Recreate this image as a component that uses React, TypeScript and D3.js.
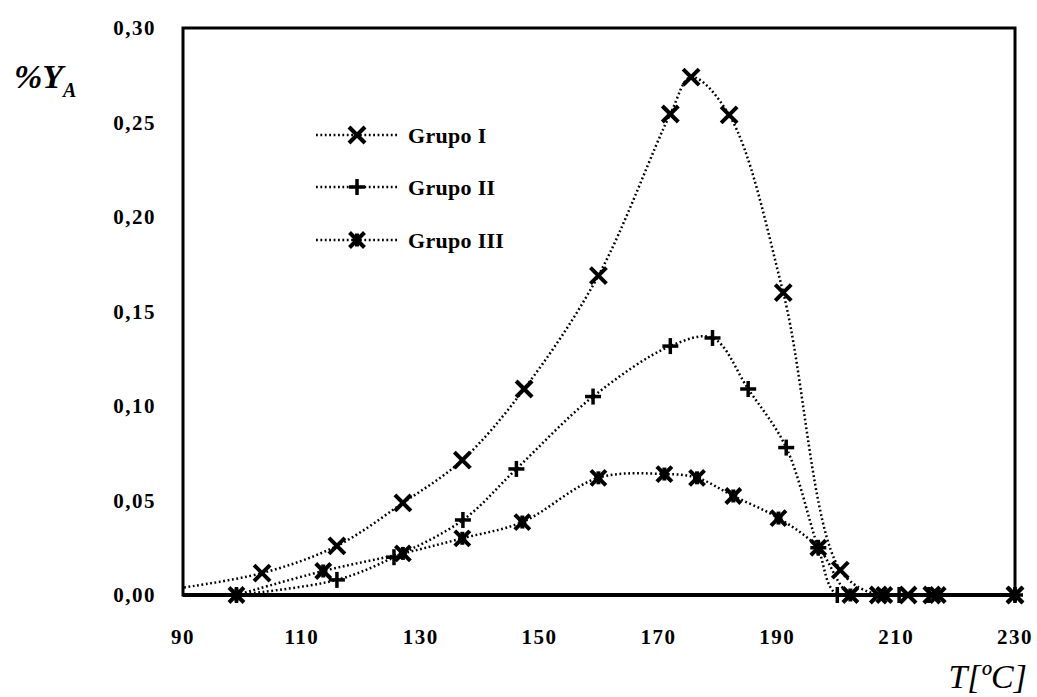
import React from "react";
import * as d3 from "d3";

// Temperature (ºC) and %Y_A readings for each group
const grupo1T = [88, 103.3, 115.9, 127, 137, 147.4, 159.9, 172, 175.5, 181.9, 191, 200.6, 207, 212, 216, 230];
const grupo1Y = [0.003, 0.0116, 0.026, 0.0487, 0.0714, 0.109, 0.169, 0.2545, 0.274, 0.254, 0.16, 0.0132, 0, 0, 0, 0];

const grupo2T = [99, 115.9, 125.5, 137.1, 146.1, 159, 172, 179.1, 185.1, 191.5, 196.9, 200.1, 210.5, 215.5, 230];
const grupo2Y = [0, 0.008, 0.02, 0.0397, 0.0667, 0.105, 0.1317, 0.136, 0.109, 0.078, 0.025, 0, 0, 0, 0];

const grupo3T = [99, 113.6, 127, 137, 147.1, 159.9, 171, 176.5, 182.6, 190.2, 196.9, 202.3, 208, 217, 230];
const grupo3Y = [0, 0.0127, 0.022, 0.03, 0.0386, 0.062, 0.064, 0.062, 0.0524, 0.0407, 0.025, 0, 0, 0, 0];

const seriesNames = ["Grupo I", "Grupo II", "Grupo III"];
const xTicks = [90, 110, 130, 150, 170, 190, 210, 230];
const yTicks = [0, 0.05, 0.1, 0.15, 0.2, 0.25, 0.3];

const W = 1037;
const H = 697;
const left = 183;
const right = 1015;
const top = 28;
const bottom = 595;

const FONT = "'Liberation Serif', 'Times New Roman', serif";

type Pt = { t: number; y: number };

function Marker({ kind, x, y }: { kind: number; x: number; y: number }) {
  if (kind === 0) {
    const s = 8;
    return (
      <g stroke="#000" strokeWidth={4} strokeLinecap="butt">
        <line x1={x - s} y1={y - s} x2={x + s} y2={y + s} />
        <line x1={x - s} y1={y + s} x2={x + s} y2={y - s} />
      </g>
    );
  }
  if (kind === 1) {
    const s = 8;
    return (
      <g stroke="#000" strokeWidth={3.5}>
        <line x1={x - s} y1={y} x2={x + s} y2={y} />
        <line x1={x} y1={y - s} x2={x} y2={y + s} />
      </g>
    );
  }
  const s = 7.5;
  return (
    <g stroke="#000" strokeWidth={4}>
      <line x1={x - s} y1={y - s} x2={x + s} y2={y + s} />
      <line x1={x - s} y1={y + s} x2={x + s} y2={y - s} />
      <line x1={x} y1={y - s + 1} x2={x} y2={y + s - 1} />
      <rect x={x - 4} y={y - 4} width={8} height={8} fill="#000" stroke="none" />
    </g>
  );
}

export default function App() {
  const x = d3.scaleLinear().domain([90, 230]).range([left, right]);
  const y = d3.scaleLinear().domain([0, 0.3]).range([bottom, top]);

  const series: Pt[][] = [
    grupo1T.map((t, i) => ({ t, y: grupo1Y[i] })),
    grupo2T.map((t, i) => ({ t, y: grupo2Y[i] })),
    grupo3T.map((t, i) => ({ t, y: grupo3Y[i] })),
  ];

  const line = d3
    .line<Pt>()
    .x((d) => x(d.t))
    .y((d) => y(d.y))
    .curve(d3.curveCatmullRom.alpha(0.5));

  const fmt = (v: number) => v.toFixed(2).replace(".", ",");

  const legendY = [135, 187, 240];

  return (
    <svg
      width={W}
      height={H}
      style={{ position: "absolute", left: 0, top: 0, background: "#fff" }}
      fontFamily={FONT}
    >
      <defs>
        <clipPath id="plotClip">
          <rect x={left} y={top} width={right - left} height={bottom - top} />
        </clipPath>
        <clipPath id="markerClip">
          <rect x={left - 2} y={0} width={W - left + 2} height={H} />
        </clipPath>
      </defs>
      <rect x={0} y={0} width={W} height={H} fill="#fff" />

      {/* data curves */}
      <g clipPath="url(#plotClip)">
        {series.map((s, i) => (
          <path
            key={i}
            d={line(s) || ""}
            fill="none"
            stroke="#000"
            strokeWidth={2.5}
            strokeDasharray="1.8 2.6"
          />
        ))}
      </g>

      {/* frame */}
      <rect x={left} y={top} width={right - left} height={bottom - top} fill="none" stroke="#000" strokeWidth={3} />
      <line x1={left} x2={right} y1={bottom} y2={bottom} stroke="#000" strokeWidth={4} />

      {/* markers */}
      <g clipPath="url(#markerClip)">
        {series.map((s, i) =>
          s.map((d, j) => <Marker key={i + "-" + j} kind={i} x={x(d.t)} y={y(d.y)} />)
        )}
      </g>

      {/* y tick labels */}
      {yTicks.map((v) => (
        <text
          key={v}
          x={156}
          y={y(v)}
          dy="0.35em"
          textAnchor="end"
          fontSize={21}
          fontWeight="bold"
          letterSpacing={1.5}
        >
          {fmt(v)}
        </text>
      ))}

      {/* x tick labels */}
      {xTicks.map((v) => (
        <text
          key={v}
          x={x(v)}
          y={637}
          dy="0.35em"
          textAnchor="middle"
          fontSize={21}
          fontWeight="bold"
          letterSpacing={1.5}
        >
          {v}
        </text>
      ))}

      {/* axis titles */}
      <text x={14} y={88} fontSize={34} fontStyle="italic" fontWeight="bold">
        %Y
        <tspan fontSize={20} dy={9}>A</tspan>
      </text>
      <text x={1027} y={688} textAnchor="end" fontSize={34} fontStyle="italic">
        T[ºC]
      </text>

      {/* legend */}
      {seriesNames.map((name, i) => (
        <g key={name}>
          <line
            x1={316}
            x2={397}
            y1={legendY[i]}
            y2={legendY[i]}
            stroke="#000"
            strokeWidth={2.5}
            strokeDasharray="1.8 2.6"
          />
          <Marker kind={i} x={357} y={legendY[i]} />
          <text x={408} y={legendY[i]} dy="0.35em" fontSize={22} fontWeight="bold" letterSpacing={0.3}>
            {name}
          </text>
        </g>
      ))}
    </svg>
  );
}
